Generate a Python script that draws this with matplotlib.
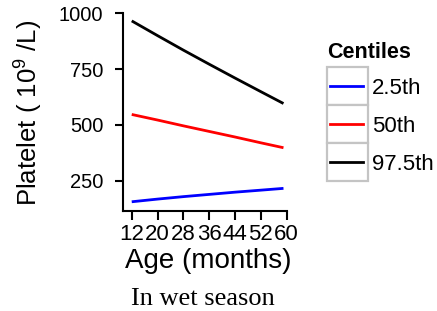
import numpy as np
import matplotlib
matplotlib.use('Agg')
import matplotlib.pyplot as plt
from matplotlib.patches import Rectangle
from matplotlib.lines import Line2D

plt.rcParams['font.family'] = ['Liberation Sans', 'DejaVu Sans']
plt.rcParams['mathtext.default'] = 'regular'

# values
age = [12, 20, 28, 36, 44, 52, 59]
p2_5 = [156, 168, 179, 189, 199, 208, 216]
p50 = [547, 522, 496, 471, 446, 420, 398]
p97_5 = [966, 900, 835, 772, 710, 649, 596]

centile_labels = ['2.5th', '50th', '97.5th']
centile_colors = ['#0000ff', '#ff0000', '#000000']
x_ticks = [12, 20, 28, 36, 44, 52, 60]
y_ticks = [250, 500, 750, 1000]

W, H = 437, 311


def fx(px):
    return px / W


def fy(py):
    return 1 - py / H


fig = plt.figure(figsize=(W / 100, H / 100), dpi=100)
ax = fig.add_axes([fx(123.5), fy(210.7), fx(286.7) - fx(123.5), fy(13.3) - fy(210.7)])

for vals, c in zip([p2_5, p50, p97_5], centile_colors):
    ax.plot(age, vals, color=c, lw=2.0, solid_capstyle='butt')

ax.set_xlim(9.45, 60)
ax.set_ylim(116, 1000)
ax.set_xticks(x_ticks)
ax.set_xticklabels([str(t) for t in x_ticks])
ax.set_yticks(y_ticks)
for s in ['top', 'right']:
    ax.spines[s].set_visible(False)
for s in ['left', 'bottom']:
    ax.spines[s].set_linewidth(1.5)
ax.tick_params(axis='x', length=6.5, width=1.5, pad=3, labelsize=16)
ax.tick_params(axis='y', length=6, width=1.5, pad=8.5, labelsize=14.5)

# axis titles
fig.text(fx(29), fy(112.5), 'Platelet ( 10$^{9}$ /L)', rotation=90,
         ha='center', va='center', fontsize=18.5)
fig.text(fx(208), fy(261), 'Age (months)', ha='center', va='center', fontsize=20)

# legend, drawn by hand in the style of the original
fig.text(fx(327), fy(58.3), 'Centiles', ha='left', va='baseline',
         fontsize=15.5, fontweight='bold')
box_top = 66.7
box_h = 38.2
for i, (lab, c) in enumerate(zip(centile_labels, centile_colors)):
    top = box_top + i * box_h
    fig.patches.append(Rectangle((fx(326.5), fy(top + box_h)), fx(368) - fx(326.5),
                                 fy(top) - fy(top + box_h), transform=fig.transFigure,
                                 facecolor='white', edgecolor='#c4c4c4', lw=1.6))
    mid = top + box_h / 2
    fig.lines.append(Line2D([fx(330), fx(363)], [fy(mid), fy(mid)],
                            transform=fig.transFigure, color=c, lw=2.0))
    fig.text(fx(372), fy(mid + 8), lab, ha='left', va='baseline', fontsize=16)

fig.text(fx(202.5), fy(305), 'In wet season', ha='center', va='baseline',
         fontsize=19, family=['Liberation Serif', 'DejaVu Serif'])

plt.savefig('out.png', dpi=100)
